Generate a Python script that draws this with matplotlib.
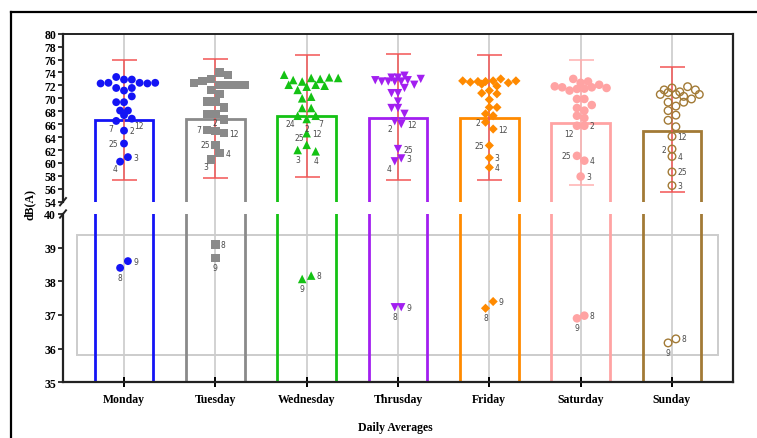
import numpy as np
import matplotlib
matplotlib.use("Agg")
import matplotlib.pyplot as plt
from matplotlib.patches import Rectangle
from matplotlib.lines import Line2D

# ---------------- data (each day listed row by row, left to right) ----------------
days = ['Monday', 'Tuesday', 'Wednesday', 'Thrusday', 'Friday', 'Saturday', 'Sunday']

means = [66.6, 66.8, 67.2, 67.0, 66.9, 66.2, 65.0]
err_low = [57.4, 57.7, 57.8, 57.3, 57.3, 56.6, 55.5]
err_high = [76.0, 76.15, 76.7, 76.9, 76.7, 76.0, 74.8]

mon_vals = [72.3, 72.4, 73.3, 72.9, 72.9, 72.4, 72.3, 72.4, 71.6, 71.2, 71.6, 69.4, 69.4, 70.3,
            68.1, 68.1, 66.5, 67.4, 66.85, 65.0, 63.0, 60.2, 60.9, 38.4, 38.6]
mon_labels = [''] * 16 + ['7', '', '12', '2', '25', '4', '3', '8', '9']

tue_vals = [74.0, 73.6, 72.4, 72.7, 73.0, 72.1, 72.1, 72.1, 72.1, 71.3, 70.7, 69.5, 69.5, 68.6,
            67.6, 67.6, 66.7, 65.1, 64.9, 64.6, 62.8, 60.55, 61.5, 39.09, 38.69]
tue_labels = [''] * 17 + ['7', '2', '12', '25', '3', '4', '8', '9']

wed_vals = [73.65, 72.83, 72.6, 73.15, 73.0, 73.25, 73.15, 72.1, 71.3, 71.8, 72.1, 71.95, 70.0,
            70.25, 68.5, 68.5, 67.3, 66.8, 67.3, 64.6, 62.0, 62.8, 61.8, 38.07, 38.17]
wed_labels = [''] * 16 + ['24', '2', '7', '12', '3', '25', '4', '9', '8']

thu_vals = [73.2, 73.2, 73.5, 72.8, 72.6, 72.6, 72.6, 72.6, 72.8, 72.1, 73.0, 70.8, 70.8, 71.6,
            68.5, 69.5, 68.5, 67.6, 66.45, 66.0, 62.15, 60.25, 60.7, 37.23, 37.23]
thu_labels = [''] * 18 + ['2', '12', '25', '4', '3', '8', '9']

fri_vals = [72.7, 72.5, 72.6, 72.6, 72.7, 73.0, 72.4, 72.7, 72.2, 71.2, 71.9, 70.8, 69.8, 70.7,
            68.6, 68.6, 67.6, 67.3, 66.3, 65.25, 62.7, 60.8, 59.3, 37.2, 37.4]
fri_labels = [''] * 18 + ['2', '12', '25', '3', '4', '8', '9']

sat_vals = [73.0, 72.4, 72.6, 71.85, 71.7, 71.2, 71.45, 71.5, 71.7, 72.1, 71.6, 69.9, 69.9, 68.5,
            68.1, 68.96, 67.3, 66.95, 65.75, 65.75, 61.1, 60.35, 57.9, 36.9, 36.98]
sat_labels = [''] * 18 + ['12', '2', '25', '4', '3', '9', '8']

sun_vals = [71.3, 71.6, 71.0, 71.8, 71.3, 70.6, 70.9, 70.6, 70.3, 69.9, 70.6, 69.4, 68.8, 69.4,
            68.1, 67.4, 66.6, 65.6, 64.1, 62.15, 61.0, 58.6, 56.5, 36.17, 36.29]
sun_labels = [''] * 18 + ['12', '2', '4', '25', '3', '9', '8']

values = [mon_vals, tue_vals, wed_vals, thu_vals, fri_vals, sat_vals, sun_vals]
point_labels = [mon_labels, tue_labels, wed_labels, thu_labels, fri_labels, sat_labels, sun_labels]

upper_ticks = list(range(54, 81, 2))
lower_ticks = [35, 36, 37, 38, 39, 40]

# ---------------- style ----------------
colors = ['#1414f5', '#8a8a8a', '#14c214', '#a21ff0', '#ff8a00', '#ffa3a3', '#a27a36']
markers = ['o', 's', '^', 'v', 'D', 'o', 'o']
msizes = [32, 36, 38, 36, 22, 38, 30]
spacing = [7.8, 8.5, 9.0, 6.5, 7.6, 7.4, 7.8]
filled = [True, True, True, True, True, True, False]
err_colors = ['#f25555', '#f25555', '#f25555', '#f25555', '#f25555', '#ffb0b0', '#f25555']

place = {
    'Monday': {'7': 'bl', '12': 'br', '2': 'r', '25': 'l', '3': 'r', '4': 'bl', '8': 'b', '9': 'r'},
    'Tuesday': {'7': 'l', '2': 'a', '12': 'r', '25': 'l', '4': 'r', '3': 'br', '8': 'r', '9': 'b'},
    'Wednesday': {'24': 'bl', '2': 'b', '7': 'br', '12': 'r', '25': 'al', '3': 'b', '4': 'b', '8': 'r', '9': 'b'},
    'Thrusday': {'2': 'bl', '12': 'r', '25': 'r', '3': 'r', '4': 'bl', '8': 'b', '9': 'r'},
    'Friday': {'2': 'l', '12': 'r', '25': 'l', '3': 'r', '4': 'r', '8': 'b', '9': 'r'},
    'Saturday': {'12': 'bl', '2': 'r', '25': 'l', '4': 'r', '3': 'r', '8': 'r', '9': 'b'},
    'Sunday': {'12': 'r', '2': 'l', '4': 'r', '25': 'r', '3': 'r', '8': 'r', '9': 'b'},
}
offs = {'r': ((4, 0), 'left', 'center'), 'l': ((-4, 0), 'right', 'center'),
        'br': ((2, -2), 'left', 'top'), 'bl': ((-2, -2), 'right', 'top'),
        'b': ((0, -3.5), 'center', 'top'), 'a': ((0, 3), 'center', 'bottom'),
        'ar': ((2, 2), 'left', 'bottom'), 'al': ((-2, 2), 'right', 'bottom')}

serif = ['Liberation Serif', 'DejaVu Serif']
W_px, H_px = 757, 439
fig = plt.figure(figsize=(W_px / 100, H_px / 100), dpi=100)

L = 63 / W_px
R = 733 / W_px
up_b, up_t = 1 - 202.7 / H_px, 1 - 34.7 / H_px
lo_b, lo_t = 1 - 383.3 / H_px, 1 - 215 / H_px
xlim = (-0.668, 6.668)
xpos = np.arange(len(days))

# background axes (continuous grid lines and right border)
bg = fig.add_axes([L, lo_b, R - L, up_t - lo_b], zorder=0)
bg.set_xlim(*xlim)
bg.set_ylim(0, 1)
bg.set_xticks([])
bg.set_yticks([])
for s in ['left', 'top', 'bottom']:
    bg.spines[s].set_visible(False)
bg.spines['right'].set_linewidth(1.6)
bg.spines['right'].set_color('#222222')
for x in xpos:
    bg.axvline(x, color='#cfcfcf', lw=1.3, zorder=0)

axu = fig.add_axes([L, up_b, R - L, up_t - up_b], zorder=2)
axl = fig.add_axes([L, lo_b, R - L, lo_t - lo_b], zorder=2)
for ax in (axu, axl):
    ax.patch.set_alpha(0)
    ax.set_xlim(*xlim)
    ax.spines['right'].set_visible(False)
    ax.spines['left'].set_linewidth(1.6)
    ax.spines['left'].set_color('#222222')
axu.set_ylim(54, 80)
axl.set_ylim(35, 40)
axu.spines['bottom'].set_visible(False)
axu.spines['top'].set_linewidth(1.4)
axu.spines['top'].set_color('#222222')
axl.spines['top'].set_visible(False)
axl.spines['bottom'].set_linewidth(1.6)
axl.spines['bottom'].set_color('#222222')

axu.set_yticks(upper_ticks)
axl.set_yticks(lower_ticks)
axu.set_xticks([])
axl.set_xticks(xpos)
axl.set_xticklabels(days)
for ax in (axu, axl):
    ax.tick_params(axis='y', length=3.5, width=1.1, pad=1.5, labelsize=8.5)
    for t in ax.get_yticklabels():
        t.set_fontfamily(serif)
        t.set_fontweight('bold')
axl.tick_params(axis='x', direction='inout', length=7, width=1.4, pad=4.5, labelsize=8.5)
for t in axl.get_xticklabels():
    t.set_fontfamily(serif)
    t.set_fontweight('bold')

# bars
for ax in (axu, axl):
    ax.bar(xpos, means, width=0.645, fill=False, edgecolor=colors, linewidth=2.0, zorder=2)

# error bars
for i in range(len(days)):
    axu.errorbar(xpos[i], means[i], yerr=[[means[i] - err_low[i]], [err_high[i] - means[i]]],
                 fmt='none', ecolor=err_colors[i], elinewidth=1.1, capsize=9, capthick=1.1, zorder=3)

# highlight box in lower panel
axl.add_patch(Rectangle((-0.515, 35.8), 7.02, 3.57, fill=False, edgecolor='#cccccc', lw=1.4, zorder=1))


def binned_swarm(ax, xc, vals, s, h=7.0):
    """Prism-like scatter: values closer than h pixels share a row and are spread by s pixels
    (in list order); a row is shifted by half a step when that avoids overlapping earlier rows."""
    vals = np.asarray(vals, dtype=float)
    n = len(vals)
    pts = ax.transData.transform(np.column_stack([np.full(n, xc), vals]))
    ypx = pts[:, 1]
    x0 = pts[0, 0]
    order = np.argsort(ypx, kind='stable')
    bins, cur = [], []
    for i in order:
        if cur and ypx[i] - ypx[cur[0]] >= h:
            bins.append(cur)
            cur = []
        cur.append(i)
    if cur:
        bins.append(cur)
    xs = np.full(n, x0)
    placed = []
    dmin = 0.92 * s
    for b in bins:
        m = len(b)
        pos = [(k - (m - 1) / 2) * s for k in range(m)]
        members = sorted(b)
        best, best_d = 0.0, -1.0
        for shift in (0.0, s / 2, -s / 2, s, -s):
            dd = 1e9
            for j, p in zip(members, pos):
                for px, py in placed:
                    dd = min(dd, np.hypot(x0 + p + shift - px, ypx[j] - py))
            if dd >= dmin:
                best = shift
                break
            if dd > best_d + 0.5:
                best, best_d = shift, dd
        for j, p in zip(members, pos):
            xs[j] = x0 + p + best
            placed.append((xs[j], ypx[j]))
    back = ax.transData.inverted().transform(np.column_stack([xs, ypx]))
    return back[:, 0], xs - x0


for i, day in enumerate(days):
    vals = np.asarray(values[i])
    labs = np.asarray(point_labels[i])
    for ax, mask in ((axu, vals >= 50), (axl, vals < 50)):
        v = vals[mask]
        lb = labs[mask]
        xs, dpx = binned_swarm(ax, xpos[i], v, spacing[i])
        if filled[i]:
            ax.scatter(xs, v, s=msizes[i], marker=markers[i], color=colors[i], edgecolors='none', zorder=4)
        else:
            ax.scatter(xs, v, s=msizes[i], marker=markers[i], facecolors='none', edgecolors=colors[i],
                       linewidths=1.0, zorder=4)
        for xx, yy, t, o in zip(xs, v, lb, dpx):
            if t:
                key = place[day][t]
                if o > 0.5:
                    key = key.replace('l', 'r')
                elif o < -0.5:
                    key = key.replace('r', 'l')
                (dx, dy), ha, va = offs[key]
                ax.annotate(t, (xx, yy), xytext=(dx, dy), textcoords='offset points', ha=ha, va=va,
                            fontsize=5.5, color='#4a4a4a', zorder=5, family='DejaVu Sans')

# axis break marks
for ax, yb in ((axu, 0.0), (axl, 1.0)):
    dxm, dym = 0.0045, 0.022
    ax.plot([-dxm, dxm], [yb - dym, yb + dym], transform=ax.transAxes, color='#222222', lw=1.4,
            clip_on=False, zorder=6)

# labels
fig.text(30 / W_px, 1 - 205 / H_px, 'dB(A)', rotation=90, ha='center', va='center',
         fontsize=8.5, fontweight='bold', family=serif)
fig.text(395 / W_px, 1 - 428 / H_px, 'Daily Averages', ha='center', va='center',
         fontsize=8.5, fontweight='bold', family=serif)

# outer frame
fx, fy = 11 / W_px, 1 - 13 / H_px
fig.add_artist(Line2D([fx, 1.0], [fy, fy], transform=fig.transFigure, color='black', lw=1.6))
fig.add_artist(Line2D([fx, fx], [0, fy], transform=fig.transFigure, color='black', lw=1.6))

fig.savefig('out.png', dpi=100)
